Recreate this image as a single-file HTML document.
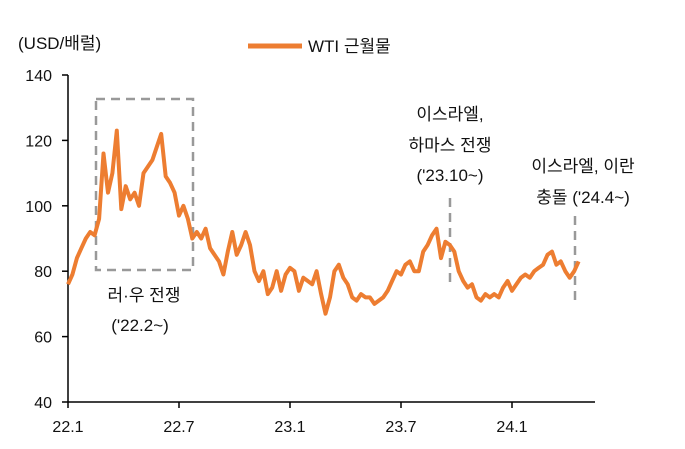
<!DOCTYPE html>
<html><head><meta charset="utf-8">
<style>
body{margin:0;background:#fff;}
svg text{font-family:"Liberation Sans","Noto Sans CJK KR",sans-serif;fill:#111;}
</style></head>
<body>
<svg width="685" height="444" viewBox="0 0 685 444" xmlns="http://www.w3.org/2000/svg">
<text x="18" y="49" font-size="17">(USD/배럴)</text>
<line x1="248" y1="46" x2="302" y2="46" stroke="#ED7D31" stroke-width="5"/>
<text x="308" y="52" font-size="17">WTI 근월물</text>
<g id="axes"></g>
<g id="annot">
<rect x="96" y="99" width="97" height="171" fill="none" stroke="#999" stroke-width="2.5" stroke-dasharray="9,6"/>
<line x1="450" y1="198" x2="450" y2="284" stroke="#999" stroke-width="2.5" stroke-dasharray="9,6"/>
<line x1="575" y1="216" x2="575" y2="300" stroke="#999" stroke-width="2.5" stroke-dasharray="9,6"/>
<text x="144" y="301" font-size="17" text-anchor="middle">러·우 전쟁</text>
<text x="140" y="331" font-size="17" text-anchor="middle">('22.2~)</text>
<text x="450" y="120" font-size="17" text-anchor="middle">이스라엘,</text>
<text x="450" y="151" font-size="17" text-anchor="middle">하마스 전쟁</text>
<text x="450" y="181" font-size="17" text-anchor="middle">('23.10~)</text>
<text x="583" y="172" font-size="17" text-anchor="middle">이스라엘, 이란</text>
<text x="583" y="203" font-size="17" text-anchor="middle">충돌 ('24.4~)</text>
</g>
<path id="line" fill="none" stroke="#ED7D31" stroke-width="4" stroke-linejoin="round"/>
</svg>
<script>
const yTicks=[40,60,80,100,120,140];
const xTickLabels=["22.1","22.7","23.1","23.7","24.1"];
const xTickMonths=[0,6,12,18,24];
const wtiValues=[76,79,84,87,90,92,91,96,116,104,110,123,99,106,102,104,100,110,112,114,118,122,109,107,104,97,100,96,90,92,90,93,87,85,83,79,86,92,85,88,92,88,80,77,80,73,75,80,74,79,81,80,74,78,77,76,80,73,67,72,80,82,78,76,72,71,73,72,72,70,71,72,74,77,80,79,82,83,80,80,86,88,91,93,84,89,88,86,80,77,75,76,72,71,73,72,73,72,75,77,74,76,78,79,78,80,81,82,85,86,82,83,80,78,80,83];
const endMonth=27.6;
const y=v=>402-(v-40)*3.27;
const x=m=>68+m*18.5;
const ns="http://www.w3.org/2000/svg";
const ax=document.getElementById('axes');
function mk(t,a){const e=document.createElementNS(ns,t);for(const k in a)e.setAttribute(k,a[k]);ax.appendChild(e);return e;}
let e=mk('line',{x1:68,y1:75,x2:68,y2:402,stroke:'#000','stroke-width':1.5});


e=mk('line',{x1:68,y1:402,x2:595,y2:402,stroke:'#000','stroke-width':1.5});


yTicks.forEach(v=>{
 let t=mk('line',{x1:62,y1:y(v),x2:68,y2:y(v),stroke:'#000','stroke-width':1.5});
 
 
 let l=mk('text',{x:52,y:y(v)+6,'font-size':16,'text-anchor':'end'});l.textContent=v;
 
 
});
xTickLabels.forEach((s,i)=>{
 const px=x(xTickMonths[i]);
 let t=mk('line',{x1:px,y1:402,x2:px,y2:408,stroke:'#000','stroke-width':1.5});
 
 
 let l=mk('text',{x:px,y:432,'font-size':16,'text-anchor':'middle'});l.textContent=s;
 
 
});
const n=wtiValues.length;
document.getElementById('line').setAttribute('d',wtiValues.map((v,i)=>(i?'L':'M')+x(i/(n-1)*endMonth).toFixed(1)+','+y(v).toFixed(1)).join(''));
</script>
</body></html>
